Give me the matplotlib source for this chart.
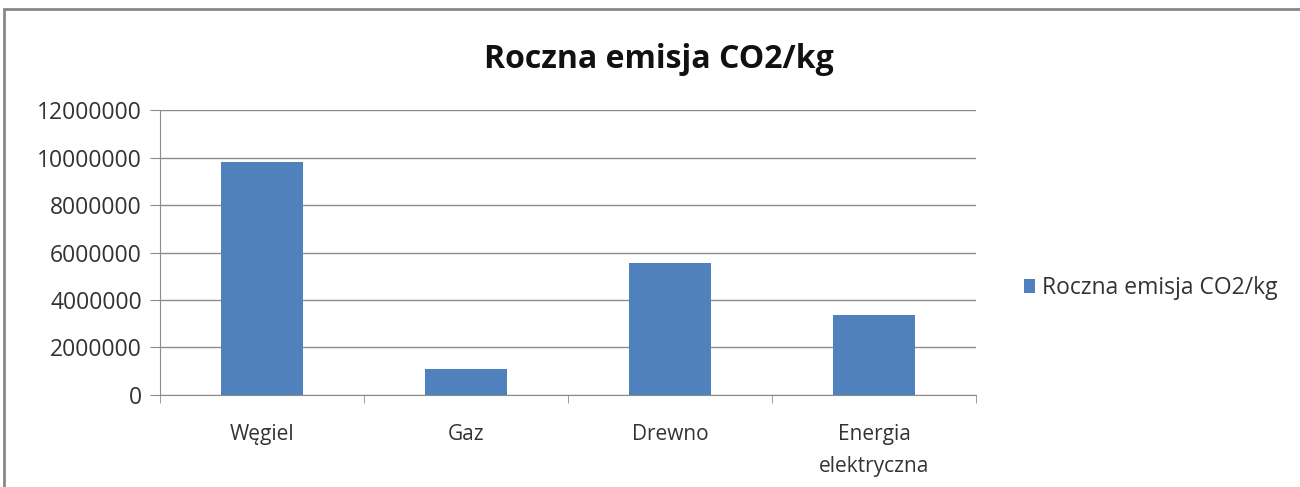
import numpy as np
import matplotlib.pyplot as plt
from matplotlib.patches import Rectangle

# === Data ===
categories = ["Węgiel", "Gaz", "Drewno", "Energia\nelektryczna"]
emisja = [9810000, 1090000, 5560000, 3370000]
series_name = "Roczna emisja CO2/kg"

plt.rcParams['font.family'] = ['Open Sans', 'DejaVu Sans']

fig = plt.figure(figsize=(13, 4.87), dpi=100)
ax = fig.add_axes([0.123, 0.189, 0.628, 0.585])

x = np.arange(len(categories))
ax.bar(x, emisja, width=0.4, color="#4f81bd", label=series_name, zorder=3)

ax.set_xlim(-0.5, len(categories) - 0.5)
ax.set_ylim(0, 12000000)
ax.set_yticks(np.arange(0, 12000001, 2000000))
ax.set_yticklabels([str(v) for v in range(0, 12000001, 2000000)])
ax.yaxis.grid(True, color="#8c8c8c", linewidth=1, zorder=0)

# category labels centred, tick marks on the boundaries
ax.set_xticks(x)
ax.set_xticklabels(categories, fontsize=15, color="#333333", linespacing=1.7)
ax.tick_params(axis='x', length=0, pad=21)
ax.set_xticks(np.arange(-0.5, len(categories)), minor=True)
ax.tick_params(axis='x', which='minor', length=6, color="#8c8c8c")
ax.tick_params(axis='y', length=7, color="#8c8c8c", labelsize=16.5, labelcolor="#333333", pad=6)

for side in ['top', 'right']:
    ax.spines[side].set_visible(False)
for side in ['left', 'bottom']:
    ax.spines[side].set_color("#8c8c8c")

fig.text(0.507, 0.877, series_name, ha='center', va='center', fontsize=23, fontweight='bold', color="#111111")

ax.legend(loc='center left', bbox_to_anchor=(1.058, 0.375), frameon=False, fontsize=16.5,
          borderaxespad=0, borderpad=0,
          handlelength=0.5, handleheight=0.5, handletextpad=0.3, labelcolor="#333333")

# outer chart border
fig.patches.append(Rectangle((0.003, -0.05), 1.1, 1.0315, transform=fig.transFigure,
                             fill=False, edgecolor="#888888", linewidth=2))

fig.savefig("out.png", dpi=100)
